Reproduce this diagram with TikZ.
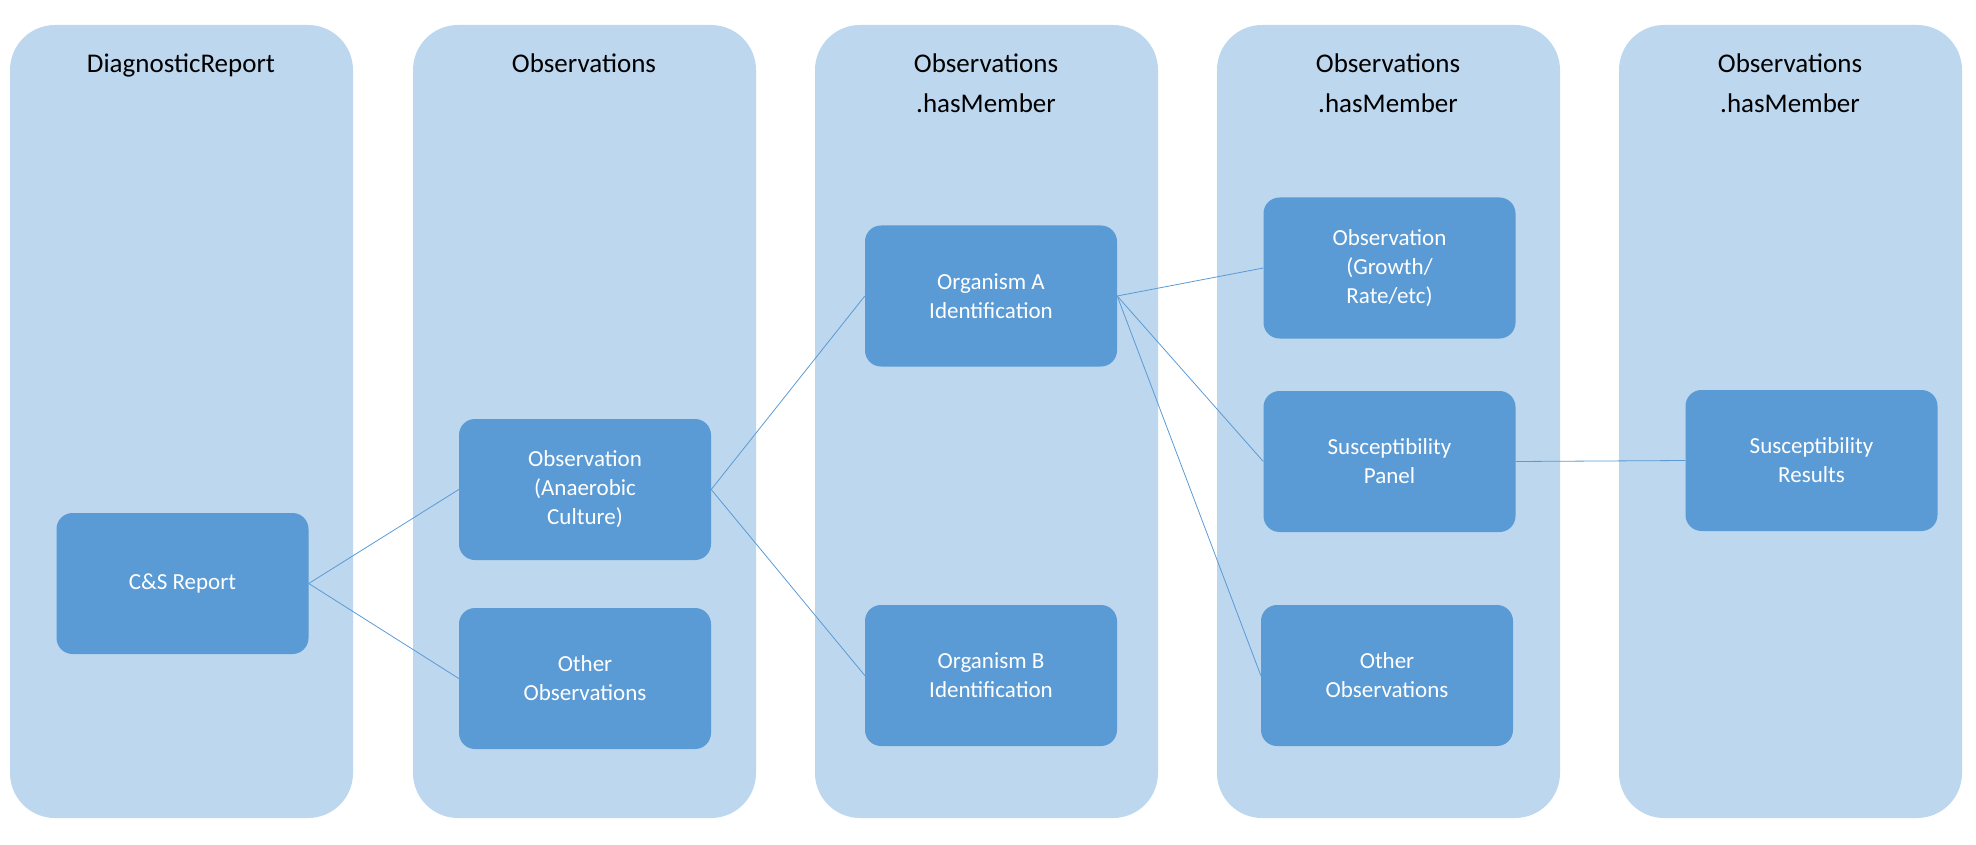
\documentclass[tikz,border=0pt]{standalone}
\usepackage{fontspec}
\setmainfont{Carlito}
\definecolor{lite}{HTML}{BDD7EE}
\definecolor{dark}{HTML}{5B9BD5}
\begin{document}
\begin{tikzpicture}[x=1pt,y=-1pt,
  col/.style={fill=lite,draw=none,rounded corners=45pt},
  box/.style={fill=dark,draw=none,rounded corners=16pt,minimum width=252pt,minimum height=141pt,text=white,align=center,font=\fontsize{23}{29}\selectfont,inner sep=0pt},
  ttl/.style={align=center,font=\fontsize{27}{40}\selectfont,anchor=north},
  ln/.style={draw=dark,line width=0.8pt}]
\useasboundingbox (0,0) rectangle (1976,845);
\foreach \x in {10,413,815,1217,1619}{\fill[col] (\x,25) rectangle ++(343,793);}
\node[ttl] (t1) at (181,50) {DiagnosticReport};
\node[ttl] (t2) at (584,50) {Observations};
\node[ttl] (t3) at (986,50) {Observations\\.hasMember};
\node[ttl] (t4) at (1388,50) {Observations\\.hasMember};
\node[ttl] (t5) at (1790,50) {Observations\\.hasMember};
\node[box] (cs) at (182.5,583.5) {C\&S Report};
\node[box] (ana) at (585,489.5) {Observation\\(Anaerobic\\Culture)};
\node[box] (oth2) at (585,678.5) {Other\\Observations};
\node[box] (oa) at (991,296) {Organism A\\Identification};
\node[box] (ob) at (991,675.5) {Organism B\\Identification};
\node[box] (gr) at (1389.5,268) {Observation\\(Growth/\\Rate/etc)};
\node[box] (sp) at (1389.5,461.5) {Susceptibility\\Panel};
\node[box] (oth4) at (1387,675.5) {Other\\Observations};
\node[box] (sr) at (1811.5,460.5) {Susceptibility\\Results};
\draw[ln] (cs.east) -- (ana.west);
\draw[ln] (cs.east) -- (oth2.west);
\draw[ln] (ana.east) -- (oa.west);
\draw[ln] (ana.east) -- (ob.west);
\draw[ln] (oa.east) -- (gr.west);
\draw[ln] (oa.east) -- (sp.west);
\draw[ln] (oa.east) -- (oth4.west);
\draw[ln] (sp.east) -- (sr.west);
\end{tikzpicture}
\end{document}
